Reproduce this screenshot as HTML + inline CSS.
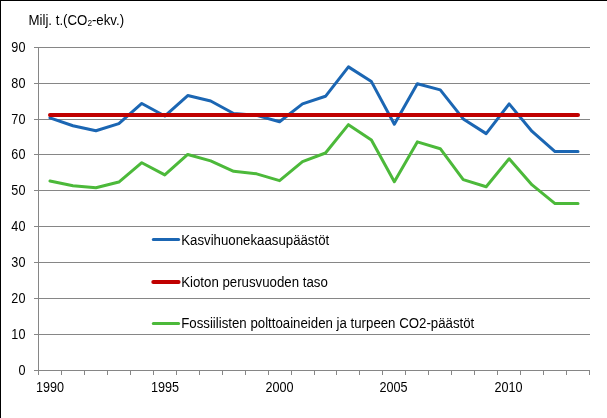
<!DOCTYPE html>
<html><head><meta charset="utf-8"><style>
html,body{margin:0;padding:0;background:#fff;}
body{width:607px;height:418px;overflow:hidden;position:relative;}
.frame{position:absolute;left:0;top:0;width:607px;height:418px;box-sizing:border-box;border-left:1px solid #000;border-top:1px solid #000;}
svg{position:absolute;left:0;top:0;}
</style></head><body>
<div class="frame"></div>
<svg width="607" height="418" viewBox="0 0 607 418">
<line x1="34" y1="47.5" x2="590" y2="47.5" stroke="#868686" stroke-width="1"/>
<line x1="34" y1="83.5" x2="590" y2="83.5" stroke="#868686" stroke-width="1"/>
<line x1="34" y1="119.5" x2="590" y2="119.5" stroke="#868686" stroke-width="1"/>
<line x1="34" y1="154.5" x2="590" y2="154.5" stroke="#868686" stroke-width="1"/>
<line x1="34" y1="190.5" x2="590" y2="190.5" stroke="#868686" stroke-width="1"/>
<line x1="34" y1="226.5" x2="590" y2="226.5" stroke="#868686" stroke-width="1"/>
<line x1="34" y1="262.5" x2="590" y2="262.5" stroke="#868686" stroke-width="1"/>
<line x1="34" y1="298.5" x2="590" y2="298.5" stroke="#868686" stroke-width="1"/>
<line x1="34" y1="334.5" x2="590" y2="334.5" stroke="#868686" stroke-width="1"/>
<line x1="34" y1="370.5" x2="590" y2="370.5" stroke="#868686" stroke-width="1"/>
<line x1="38.5" y1="47" x2="38.5" y2="375" stroke="#868686" stroke-width="1"/>
<line x1="38.5" y1="370" x2="38.5" y2="375" stroke="#868686" stroke-width="1"/>
<line x1="61.5" y1="370" x2="61.5" y2="375" stroke="#868686" stroke-width="1"/>
<line x1="84.5" y1="370" x2="84.5" y2="375" stroke="#868686" stroke-width="1"/>
<line x1="107.5" y1="370" x2="107.5" y2="375" stroke="#868686" stroke-width="1"/>
<line x1="130.5" y1="370" x2="130.5" y2="375" stroke="#868686" stroke-width="1"/>
<line x1="153.5" y1="370" x2="153.5" y2="375" stroke="#868686" stroke-width="1"/>
<line x1="176.5" y1="370" x2="176.5" y2="375" stroke="#868686" stroke-width="1"/>
<line x1="199.5" y1="370" x2="199.5" y2="375" stroke="#868686" stroke-width="1"/>
<line x1="222.5" y1="370" x2="222.5" y2="375" stroke="#868686" stroke-width="1"/>
<line x1="245.5" y1="370" x2="245.5" y2="375" stroke="#868686" stroke-width="1"/>
<line x1="268.5" y1="370" x2="268.5" y2="375" stroke="#868686" stroke-width="1"/>
<line x1="291.5" y1="370" x2="291.5" y2="375" stroke="#868686" stroke-width="1"/>
<line x1="314.5" y1="370" x2="314.5" y2="375" stroke="#868686" stroke-width="1"/>
<line x1="336.5" y1="370" x2="336.5" y2="375" stroke="#868686" stroke-width="1"/>
<line x1="359.5" y1="370" x2="359.5" y2="375" stroke="#868686" stroke-width="1"/>
<line x1="382.5" y1="370" x2="382.5" y2="375" stroke="#868686" stroke-width="1"/>
<line x1="405.5" y1="370" x2="405.5" y2="375" stroke="#868686" stroke-width="1"/>
<line x1="428.5" y1="370" x2="428.5" y2="375" stroke="#868686" stroke-width="1"/>
<line x1="451.5" y1="370" x2="451.5" y2="375" stroke="#868686" stroke-width="1"/>
<line x1="474.5" y1="370" x2="474.5" y2="375" stroke="#868686" stroke-width="1"/>
<line x1="497.5" y1="370" x2="497.5" y2="375" stroke="#868686" stroke-width="1"/>
<line x1="520.5" y1="370" x2="520.5" y2="375" stroke="#868686" stroke-width="1"/>
<line x1="543.5" y1="370" x2="543.5" y2="375" stroke="#868686" stroke-width="1"/>
<line x1="566.5" y1="370" x2="566.5" y2="375" stroke="#868686" stroke-width="1"/>
<line x1="589.5" y1="370" x2="589.5" y2="375" stroke="#868686" stroke-width="1"/>
<polyline points="49.98,117.83 72.94,125.73 95.90,130.75 118.85,123.58 141.81,103.48 164.77,116.04 187.73,95.58 210.69,100.97 233.65,113.53 256.60,115.32 279.56,121.78 302.52,103.84 325.48,96.30 348.44,66.87 371.40,81.59 394.35,124.29 417.31,83.74 440.27,89.84 463.23,118.91 486.19,133.63 509.15,103.84 532.10,131.47 555.06,151.57 578.02,151.57" fill="none" stroke="#1B66B3" stroke-width="3" stroke-linejoin="round" stroke-linecap="round"/>
<line x1="49.98" y1="115.0" x2="578.02" y2="115.0" stroke="#C00000" stroke-width="4" stroke-linecap="round"/>
<polyline points="49.98,181.00 72.94,185.67 95.90,187.82 118.85,182.08 141.81,162.70 164.77,174.90 187.73,154.44 210.69,160.90 233.65,171.31 256.60,173.82 279.56,180.64 302.52,161.62 325.48,153.01 348.44,124.65 371.40,140.09 394.35,181.72 417.31,141.88 440.27,148.70 463.23,179.57 486.19,186.74 509.15,158.75 532.10,184.95 555.06,203.61 578.02,203.61" fill="none" stroke="#4CB93A" stroke-width="3" stroke-linejoin="round" stroke-linecap="round"/>
<line x1="153.3" y1="239.5" x2="178.6" y2="239.5" stroke="#1B66B3" stroke-width="3" stroke-linecap="round"/>
<line x1="153.3" y1="282.0" x2="178.6" y2="282.0" stroke="#C00000" stroke-width="4" stroke-linecap="round"/>
<line x1="153.3" y1="323.5" x2="178.6" y2="323.5" stroke="#4CB93A" stroke-width="3" stroke-linecap="round"/>
<g opacity="0.999"><text transform="translate(25.40,52.00) scale(0.87,1)" text-anchor="end" font-family="Liberation Sans, sans-serif" font-size="14.5" fill="#000">90</text>
<text transform="translate(25.40,88.00) scale(0.87,1)" text-anchor="end" font-family="Liberation Sans, sans-serif" font-size="14.5" fill="#000">80</text>
<text transform="translate(25.40,124.00) scale(0.87,1)" text-anchor="end" font-family="Liberation Sans, sans-serif" font-size="14.5" fill="#000">70</text>
<text transform="translate(25.40,159.00) scale(0.87,1)" text-anchor="end" font-family="Liberation Sans, sans-serif" font-size="14.5" fill="#000">60</text>
<text transform="translate(25.40,195.00) scale(0.87,1)" text-anchor="end" font-family="Liberation Sans, sans-serif" font-size="14.5" fill="#000">50</text>
<text transform="translate(25.40,231.00) scale(0.87,1)" text-anchor="end" font-family="Liberation Sans, sans-serif" font-size="14.5" fill="#000">40</text>
<text transform="translate(25.40,267.00) scale(0.87,1)" text-anchor="end" font-family="Liberation Sans, sans-serif" font-size="14.5" fill="#000">30</text>
<text transform="translate(25.40,303.00) scale(0.87,1)" text-anchor="end" font-family="Liberation Sans, sans-serif" font-size="14.5" fill="#000">20</text>
<text transform="translate(25.40,339.00) scale(0.87,1)" text-anchor="end" font-family="Liberation Sans, sans-serif" font-size="14.5" fill="#000">10</text>
<text transform="translate(25.40,375.00) scale(0.87,1)" text-anchor="end" font-family="Liberation Sans, sans-serif" font-size="14.5" fill="#000">0</text>
<text transform="translate(49.98,392.00) scale(0.87,1)" text-anchor="middle" font-family="Liberation Sans, sans-serif" font-size="14.5" fill="#000">1990</text>
<text transform="translate(164.97,392.00) scale(0.87,1)" text-anchor="middle" font-family="Liberation Sans, sans-serif" font-size="14.5" fill="#000">1995</text>
<text transform="translate(279.56,392.00) scale(0.87,1)" text-anchor="middle" font-family="Liberation Sans, sans-serif" font-size="14.5" fill="#000">2000</text>
<text transform="translate(393.55,392.00) scale(0.87,1)" text-anchor="middle" font-family="Liberation Sans, sans-serif" font-size="14.5" fill="#000">2005</text>
<text transform="translate(508.45,392.00) scale(0.87,1)" text-anchor="middle" font-family="Liberation Sans, sans-serif" font-size="14.5" fill="#000">2010</text>
<text transform="translate(28.50,25.00) scale(0.915,1)" text-anchor="start" font-family="Liberation Sans, sans-serif" font-size="14.5" fill="#000">Milj. t.(CO<tspan font-size="9" dy="1.2">2</tspan><tspan dy="-1.2">-ekv.)</tspan></text>
<text transform="translate(181.20,245.00) scale(0.915,1)" text-anchor="start" font-family="Liberation Sans, sans-serif" font-size="14.5" fill="#000">Kasvihuonekaasupäästöt</text>
<text transform="translate(181.20,287.00) scale(0.915,1)" text-anchor="start" font-family="Liberation Sans, sans-serif" font-size="14.5" fill="#000">Kioton perusvuoden taso</text>
<text transform="translate(181.20,328.00) scale(0.915,1)" text-anchor="start" font-family="Liberation Sans, sans-serif" font-size="14.5" fill="#000">Fossiilisten polttoaineiden ja turpeen CO2-päästöt</text></g>
</svg>
</body></html>
